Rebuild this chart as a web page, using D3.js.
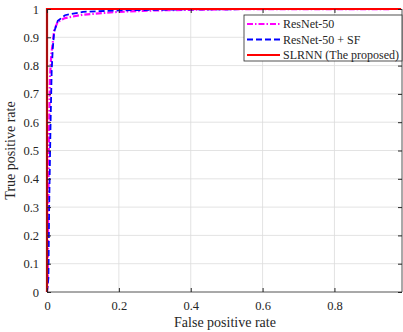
<!DOCTYPE html>
<html>
<head>
<meta charset="utf-8">
<script src="https://cdn.jsdelivr.net/npm/d3@7"></script>
<style>
  body { margin: 0; background: #fff; }
  svg { display: block; font-family: "Liberation Serif", "Times New Roman", serif; }
</style>
</head>
<body>
<div class="chart"></div>
<script>
// ROC curves
const seriesNames = ['ResNet-50', 'ResNet-50 + SF', 'SLRNN (The proposed)'];
const resnetFpr = [0, 0.002, 0.003, 0.005, 0.008, 0.012, 0.016, 0.02, 0.03, 0.05, 0.1, 0.2, 0.3, 0.5, 1];
const resnetTpr = [0, 0.05, 0.2, 0.5, 0.75, 0.84, 0.88, 0.925, 0.955, 0.968, 0.98, 0.99, 0.995, 0.999, 1];
const sfFpr = [0, 0.004, 0.006, 0.008, 0.01, 0.013, 0.016, 0.02, 0.03, 0.05, 0.1, 0.2, 0.4, 1];
const sfTpr = [0, 0.05, 0.3, 0.45, 0.6, 0.78, 0.86, 0.92, 0.958, 0.978, 0.99, 0.995, 0.999, 1];
const slrnnFpr = [0, 0, 1];
const slrnnTpr = [0, 1, 1];
const xTicks = [0, 0.2, 0.4, 0.6, 0.8];
const yTicks = [0, 0.1, 0.2, 0.3, 0.4, 0.5, 0.6, 0.7, 0.8, 0.9, 1];

var margin = {top: 9, right: 1, bottom: 40, left: 47},
  width = 403 - margin.left - margin.right,
  height = 332 - margin.top - margin.bottom;

var root = d3.select('.chart')
  .append('svg')
  .attr('width', 403)
  .attr('height', 332);

root.append('defs').append('clipPath')
  .attr('id', 'plot-clip')
  .append('rect')
  .attr('x', -2).attr('y', -2)
  .attr('width', width + 1).attr('height', height + 4);

var svg = root.append('g')
  .attr('transform', 'translate(' + margin.left + ',' + margin.top + ')');

var x = d3.scaleLinear().domain([0, 0.988]).range([0, width]);
var y = d3.scaleLinear().domain([0, 1]).range([height, 0]);

// grid
svg.append('g')
  .selectAll('line')
  .data(xTicks.slice(1))
  .join('line')
  .attr('x1', d => x(d)).attr('x2', d => x(d))
  .attr('y1', 0).attr('y2', height)
  .attr('stroke', '#dcdcdc').attr('stroke-width', 0.8);
svg.append('g')
  .selectAll('line')
  .data(yTicks.slice(1))
  .join('line')
  .attr('x1', 0).attr('x2', width)
  .attr('y1', d => y(d)).attr('y2', d => y(d))
  .attr('stroke', '#dcdcdc').attr('stroke-width', 0.8);

var line = d3.line().x(d => x(d[0])).y(d => y(d[1]));
var curves = svg.append('g').attr('clip-path', 'url(#plot-clip)');

curves.append('path')
  .datum(d3.zip(resnetFpr, resnetTpr))
  .attr('fill', 'none')
  .attr('stroke', '#ff00ff')
  .attr('stroke-width', 2.2)
  .attr('stroke-dasharray', '6,2,1.5,2')
  .attr('d', line);

curves.append('path')
  .datum(d3.zip(sfFpr, sfTpr))
  .attr('fill', 'none')
  .attr('stroke', '#0000ff')
  .attr('stroke-width', 1.8)
  .attr('stroke-dasharray', '6,3')
  .attr('d', line);

curves.append('path')
  .datum(d3.zip(slrnnFpr, slrnnTpr))
  .attr('fill', 'none')
  .attr('stroke', '#ff0000')
  .attr('stroke-width', 2.2)
  .attr('d', line);

// axes (MATLAB style inward ticks)
svg.append('g')
  .attr('transform', 'translate(0,' + height + ')')
  .call(d3.axisBottom(x).tickValues(xTicks).tickSize(-4).tickPadding(9).tickFormat(d3.format('~g')))
  .call(g => g.select('.domain').remove())
  .call(g => g.selectAll('.tick line').attr('stroke', '#262626'))
  .call(g => g.selectAll('.tick text').style('font-size', '12.5px').attr('fill', '#262626').style('font-family', 'Liberation Serif'));

svg.append('g')
  .call(d3.axisLeft(y).tickValues(yTicks).tickSize(-4).tickPadding(8).tickFormat(d3.format('~g')))
  .call(g => g.select('.domain').remove())
  .call(g => g.selectAll('.tick line').attr('stroke', '#262626'))
  .call(g => g.selectAll('.tick text').style('font-size', '12.5px').attr('fill', '#262626').style('font-family', 'Liberation Serif'));

svg.append('g')
  .call(d3.axisTop(x).tickValues(xTicks).tickSize(-4).tickFormat(''))
  .call(g => g.select('.domain').remove())
  .call(g => g.selectAll('.tick line').attr('stroke', '#262626'));
svg.append('g')
  .attr('transform', 'translate(' + width + ',0)')
  .call(d3.axisRight(y).tickValues(yTicks).tickSize(-4).tickFormat(''))
  .call(g => g.select('.domain').remove())
  .call(g => g.selectAll('.tick line').attr('stroke', '#262626'));

// frame: left/bottom/right, the top stays under the red curve
svg.append('path')
  .attr('d', 'M0,0V' + height + 'H' + width + 'V0')
  .attr('fill', 'none').attr('stroke', '#262626').attr('stroke-width', 0.8);

// legend
var legend = svg.append('g').attr('transform', 'translate(' + (244 - margin.left) + ',' + (15 - margin.top) + ')');
var legendBox = legend.append('rect')
  .attr('height', 46)
  .attr('fill', '#fff').attr('stroke', '#262626').attr('stroke-width', 0.8);
var styles = [
  {color: '#ff00ff', dash: '6,2,1.5,2'},
  {color: '#0000ff', dash: '6,3'},
  {color: '#ff0000', dash: null}
];
var maxRight = 0;
seriesNames.forEach(function (name, i) {
  var row = legend.append('g').attr('transform', 'translate(0,' + (9 + i * 15.5) + ')');
  row.append('line')
    .attr('x1', 3).attr('x2', 36)
    .attr('stroke', styles[i].color)
    .attr('stroke-width', 2)
    .attr('stroke-dasharray', styles[i].dash);
  var t = row.append('text')
    .attr('x', 39).attr('dy', '0.35em')
    .style('font-size', '12px')
    .attr('fill', '#262626')
    .text(name);
  maxRight = Math.max(maxRight, 39 + t.node().getComputedTextLength());
});
legendBox.attr('width', maxRight + 3);

// axis titles
svg.append('text')
  .attr('transform', 'rotate(-90)')
  .attr('x', -height / 2)
  .attr('y', -32)
  .style('text-anchor', 'middle')
  .style('font-size', '14px')
  .attr('fill', '#262626')
  .text('True positive rate');

svg.append('text')
  .attr('x', 225 - margin.left)
  .attr('y', height + 35)
  .style('text-anchor', 'middle')
  .style('font-size', '14px')
  .attr('fill', '#262626')
  .text('False positive rate');
</script>
</body>
</html>
